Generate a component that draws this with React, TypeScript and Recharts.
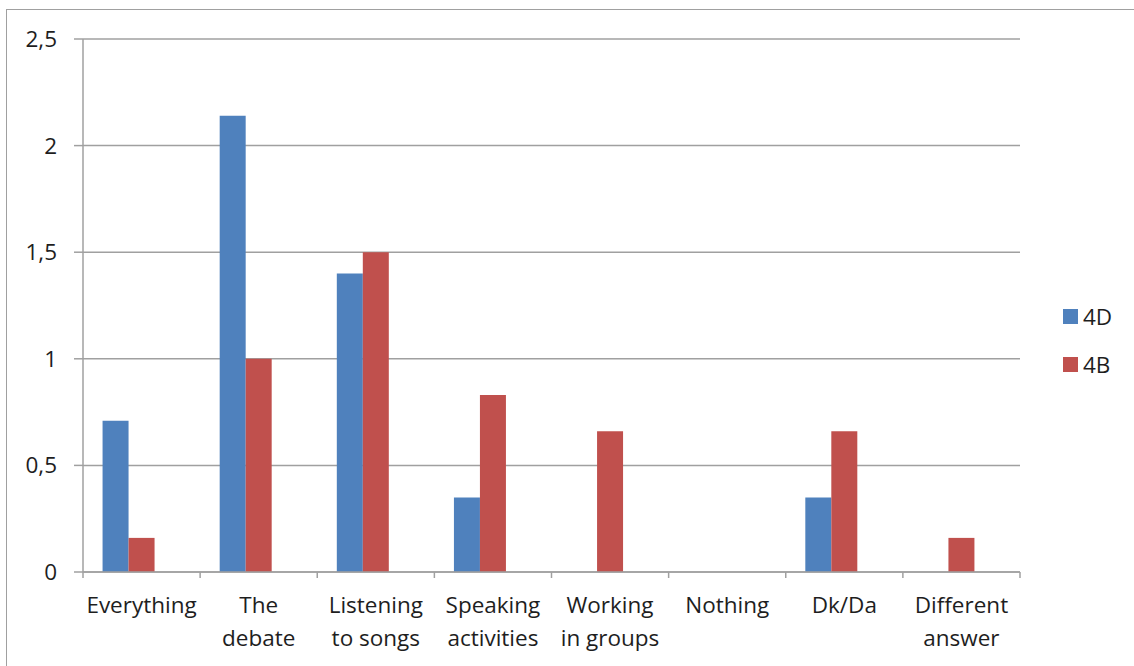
import { Bar, BarChart, CartesianGrid, XAxis, YAxis } from 'recharts';

const categories = [
  ['Everything'],
  ['The', 'debate'],
  ['Listening', 'to songs'],
  ['Speaking', 'activities'],
  ['Working', 'in groups'],
  ['Nothing'],
  ['Dk/Da'],
  ['Different', 'answer'],
];
const series4D = [0.71, 2.14, 1.4, 0.35, 0, 0, 0.35, 0];
const series4B = [0.16, 1, 1.5, 0.83, 0.66, 0, 0.66, 0.16];
const yTicks = [0, 0.5, 1, 1.5, 2, 2.5];
const legendItems = [
  { label: '4D', color: '#4f81bd' },
  { label: '4B', color: '#c0504d' },
];

const GRID = '#a0a0a0';
const TEXT = '#1e1e1e';
const FONT = '"Open Sans", "Noto Sans", sans-serif';
const FONT_SIZE = 22.5;

const WIDTH = 1134;
const HEIGHT = 666;
const MARGIN = { top: 39, right: 114, bottom: 0, left: 0 };
const Y_AXIS_WIDTH = 83;
const X_AXIS_HEIGHT = 94;
const BAND = (WIDTH - MARGIN.right - MARGIN.left - Y_AXIS_WIDTH) / categories.length;

const data = categories.map((lines, i) => ({
  name: lines.join(' '),
  d4: series4D[i],
  b4: series4B[i],
}));

interface TickProps {
  x?: number;
  y?: number;
  index?: number;
}

function CategoryTick({ x = 0, y = 0, index = 0 }: TickProps) {
  const lines = categories[index] ?? [];
  const left = x - BAND / 2;
  const right = x + BAND / 2;
  return (
    <g>
      <line x1={left} x2={left} y1={y} y2={y + 6} stroke={GRID} strokeWidth={1.5} />
      {index === categories.length - 1 && (
        <line x1={right} x2={right} y1={y} y2={y + 6} stroke={GRID} strokeWidth={1.5} />
      )}
      {lines.map((line, i) => (
        <text
          key={line}
          x={x}
          y={y + 41 + i * 33}
          textAnchor="middle"
          fill={TEXT}
          fontSize={FONT_SIZE}
          fontFamily={FONT}
        >
          {line}
        </text>
      ))}
    </g>
  );
}

function SideLegend() {
  return (
    <div
      style={{
        position: 'absolute',
        left: 1063,
        top: 292,
        fontFamily: FONT,
        fontSize: FONT_SIZE,
        color: TEXT,
      }}
    >
      {legendItems.map((item) => (
        <div key={item.label} style={{ display: 'flex', alignItems: 'center', height: 48 }}>
          <span
            style={{
              display: 'inline-block',
              width: 15,
              height: 15,
              background: item.color,
              marginRight: 5,
            }}
          />
          <span>{item.label}</span>
        </div>
      ))}
    </div>
  );
}

export default function App() {
  return (
    <div
      style={{
        position: 'absolute',
        left: 0,
        top: 0,
        width: WIDTH,
        height: HEIGHT,
        overflow: 'hidden',
        background: '#fff',
      }}
    >
      <div
        style={{
          position: 'absolute',
          left: 6,
          top: 9,
          width: WIDTH + 40,
          height: HEIGHT + 40,
          border: `1.5px solid ${GRID}`,
        }}
      />
      <div style={{ position: 'absolute', left: 0, top: 0 }}>
        <BarChart
          width={WIDTH}
          height={HEIGHT}
          data={data}
          margin={MARGIN}
          barGap={0}
          barCategoryGap="16.7%"
        >
          <CartesianGrid vertical={false} stroke={GRID} strokeWidth={1.5} />
          <XAxis
            dataKey="name"
            height={X_AXIS_HEIGHT}
            interval={0}
            axisLine={{ stroke: GRID, strokeWidth: 1.5 }}
            tickLine={false}
            tickSize={0}
            tickMargin={0}
            tick={<CategoryTick />}
          />
          <YAxis
            width={Y_AXIS_WIDTH}
            domain={[0, 2.5]}
            ticks={yTicks}
            interval={0}
            axisLine={{ stroke: GRID, strokeWidth: 1.5 }}
            tickLine={{ stroke: GRID, strokeWidth: 1.5 }}
            tickSize={9}
            tickMargin={17}
            tickFormatter={(v: number) => String(v).replace('.', ',')}
            tick={{ fill: TEXT, fontSize: FONT_SIZE, fontFamily: FONT }}
          />
          <Bar dataKey="d4" name="4D" fill={legendItems[0].color} isAnimationActive={false} />
          <Bar dataKey="b4" name="4B" fill={legendItems[1].color} isAnimationActive={false} />
          {/* empty third slot keeps the pair left of the category centre */}
          <Bar dataKey="spare" fill="none" isAnimationActive={false} />
        </BarChart>
      </div>
      <SideLegend />
    </div>
  );
}
